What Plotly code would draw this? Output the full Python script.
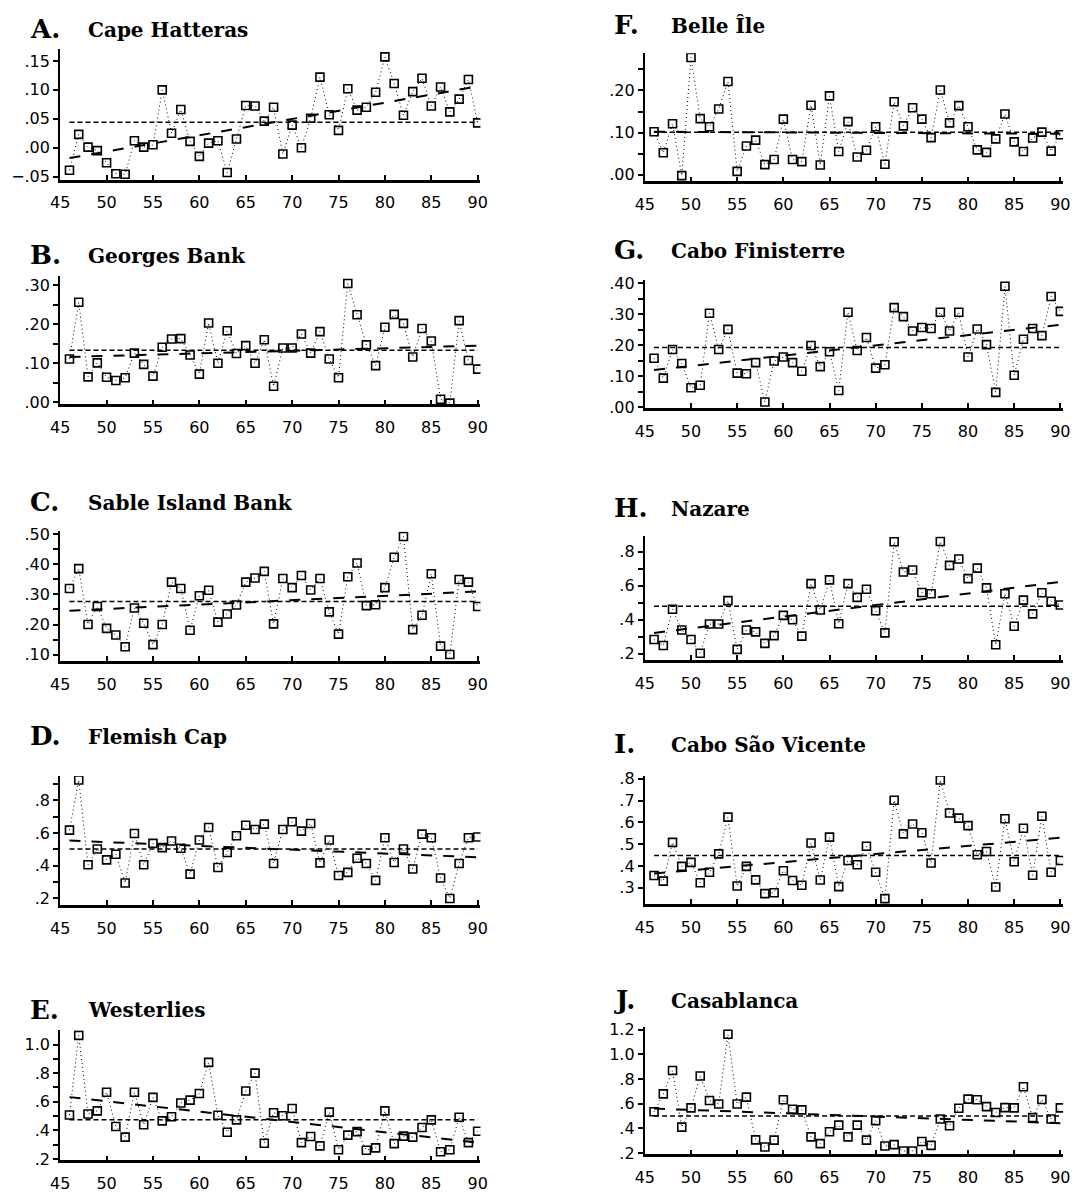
import plotly.graph_objects as go

W, H = 1078, 1193

years = list(range(46, 91))
x_tick_vals = [45, 50, 55, 60, 65, 70, 75, 80, 85, 90]
x_tick_text = ["45", "50", "55", "60", "65", "70", "75", "80", "85", "90"]

# ---------------- data ----------------
A_values = [-0.039, 0.023, 0.001, -0.005, -0.026, -0.045, -0.046, 0.012, 0.001, 0.005,
            0.100, 0.025, 0.066, 0.011, -0.015, 0.008, 0.012, -0.043, 0.015, 0.073,
            0.072, 0.046, 0.070, -0.011, 0.039, 0.000, 0.051, 0.122, 0.057, 0.030,
            0.102, 0.065, 0.070, 0.096, 0.157, 0.111, 0.056, 0.097, 0.120, 0.072,
            0.105, 0.062, 0.084, 0.118, 0.043]
A_mean = 0.044
A_trend = [-0.018, 0.106]
A_tickvals = [-0.05, 0.0, 0.05, 0.10, 0.15]
A_ticktext = ["\u2212.05", ".00", ".05", ".10", ".15"]
A_minor = []

B_values = [0.111, 0.256, 0.065, 0.101, 0.064, 0.056, 0.063, 0.126, 0.097, 0.067,
            0.141, 0.162, 0.163, 0.121, 0.072, 0.203, 0.100, 0.183, 0.125, 0.145,
            0.100, 0.160, 0.041, 0.139, 0.139, 0.175, 0.126, 0.181, 0.111, 0.063,
            0.304, 0.224, 0.147, 0.094, 0.192, 0.225, 0.202, 0.116, 0.189, 0.157,
            0.008, -0.002, 0.209, 0.107, 0.085]
B_mean = 0.133
B_trend = [0.116, 0.145]
B_tickvals = [0.0, 0.10, 0.20, 0.30]
B_ticktext = [".00", ".10", ".20", ".30"]
B_minor = [0.05, 0.15, 0.25]

C_values = [0.320, 0.386, 0.200, 0.260, 0.187, 0.165, 0.126, 0.255, 0.204, 0.133,
            0.200, 0.341, 0.320, 0.181, 0.296, 0.314, 0.208, 0.235, 0.265, 0.341,
            0.355, 0.377, 0.202, 0.353, 0.323, 0.363, 0.315, 0.353, 0.242, 0.168,
            0.359, 0.405, 0.263, 0.266, 0.323, 0.424, 0.493, 0.183, 0.231, 0.369,
            0.128, 0.100, 0.350, 0.341, 0.260]
C_mean = 0.277
C_trend = [0.246, 0.310]
C_tickvals = [0.10, 0.20, 0.30, 0.40, 0.50]
C_ticktext = [".10", ".20", ".30", ".40", ".50"]
C_minor = [0.15, 0.25, 0.35, 0.45]

D_values = [0.618, 0.925, 0.406, 0.503, 0.436, 0.471, 0.295, 0.598, 0.406, 0.537,
            0.511, 0.552, 0.507, 0.349, 0.558, 0.634, 0.390, 0.481, 0.584, 0.648,
            0.622, 0.655, 0.414, 0.622, 0.669, 0.612, 0.659, 0.418, 0.558, 0.341,
            0.360, 0.446, 0.414, 0.311, 0.572, 0.420, 0.503, 0.380, 0.594, 0.572,
            0.325, 0.200, 0.414, 0.572, 0.576]
D_mean = 0.503
D_trend = [0.554, 0.452]
D_tickvals = [0.2, 0.4, 0.6, 0.8]
D_ticktext = [".2", ".4", ".6", ".8"]
D_minor = [0.3, 0.5, 0.7, 0.9]

E_values = [0.507, 1.064, 0.514, 0.536, 0.666, 0.427, 0.352, 0.666, 0.439, 0.630,
            0.466, 0.495, 0.591, 0.611, 0.657, 0.875, 0.505, 0.386, 0.473, 0.675,
            0.800, 0.309, 0.523, 0.502, 0.552, 0.314, 0.357, 0.291, 0.527, 0.264,
            0.366, 0.391, 0.261, 0.277, 0.536, 0.307, 0.359, 0.352, 0.420, 0.473,
            0.250, 0.264, 0.491, 0.314, 0.393]
E_mean = 0.473
E_trend = [0.632, 0.314]
E_tickvals = [0.2, 0.4, 0.6, 0.8, 1.0]
E_ticktext = [".2", ".4", ".6", ".8", "1.0"]
E_minor = [0.3, 0.5, 0.7, 0.9]

F_values = [0.102, 0.052, 0.121, -0.002, 0.278, 0.133, 0.114, 0.156, 0.221, 0.008,
            0.068, 0.082, 0.024, 0.036, 0.132, 0.036, 0.031, 0.165, 0.023, 0.187,
            0.055, 0.126, 0.042, 0.058, 0.114, 0.025, 0.173, 0.116, 0.159, 0.132,
            0.088, 0.201, 0.123, 0.164, 0.114, 0.059, 0.053, 0.085, 0.144, 0.078,
            0.055, 0.087, 0.101, 0.056, 0.095]
F_mean = 0.101
F_trend = [0.102, 0.097]
F_tickvals = [0.0, 0.10, 0.20]
F_ticktext = [".00", ".10", ".20"]
F_minor = [0.05, 0.15, 0.25]

G_values = [0.158, 0.094, 0.186, 0.141, 0.063, 0.071, 0.303, 0.186, 0.251, 0.110,
            0.108, 0.144, 0.017, 0.149, 0.162, 0.144, 0.116, 0.199, 0.131, 0.179,
            0.054, 0.306, 0.183, 0.225, 0.126, 0.137, 0.321, 0.292, 0.246, 0.257,
            0.254, 0.306, 0.246, 0.306, 0.162, 0.252, 0.202, 0.048, 0.390, 0.103,
            0.219, 0.254, 0.231, 0.357, 0.309]
G_mean = 0.193
G_trend = [0.120, 0.266]
G_tickvals = [0.0, 0.10, 0.20, 0.30, 0.40]
G_ticktext = [".00", ".10", ".20", ".30", ".40"]
G_minor = [0.05, 0.15, 0.25, 0.35]

H_values = [0.283, 0.248, 0.461, 0.339, 0.283, 0.202, 0.374, 0.374, 0.512, 0.225,
            0.339, 0.328, 0.260, 0.306, 0.425, 0.399, 0.303, 0.612, 0.457, 0.634,
            0.376, 0.612, 0.531, 0.579, 0.452, 0.322, 0.858, 0.680, 0.692, 0.560,
            0.552, 0.860, 0.719, 0.757, 0.641, 0.703, 0.587, 0.252, 0.552, 0.361,
            0.515, 0.434, 0.558, 0.508, 0.486]
H_mean = 0.478
H_trend = [0.322, 0.622]
H_tickvals = [0.2, 0.4, 0.6, 0.8]
H_ticktext = [".2", ".4", ".6", ".8"]
H_minor = [0.3, 0.5, 0.7]

I_values = [0.356, 0.330, 0.508, 0.398, 0.416, 0.323, 0.371, 0.455, 0.624, 0.308,
            0.398, 0.336, 0.273, 0.277, 0.378, 0.333, 0.311, 0.505, 0.335, 0.532,
            0.305, 0.425, 0.405, 0.490, 0.371, 0.250, 0.701, 0.547, 0.592, 0.552,
            0.413, 0.794, 0.643, 0.619, 0.585, 0.451, 0.466, 0.303, 0.616, 0.419,
            0.573, 0.357, 0.628, 0.371, 0.425]
I_mean = 0.448
I_trend = [0.365, 0.529]
I_tickvals = [0.3, 0.4, 0.5, 0.6, 0.7, 0.8]
I_ticktext = [".3", ".4", ".5", ".6", ".7", ".8"]
I_minor = []

J_values = [0.535, 0.680, 0.870, 0.411, 0.567, 0.825, 0.627, 0.598, 1.163, 0.598,
            0.654, 0.308, 0.250, 0.306, 0.633, 0.556, 0.551, 0.332, 0.277, 0.374,
            0.427, 0.332, 0.427, 0.306, 0.464, 0.258, 0.269, 0.218, 0.218, 0.295,
            0.263, 0.477, 0.422, 0.564, 0.638, 0.633, 0.577, 0.530, 0.569, 0.567,
            0.738, 0.488, 0.635, 0.477, 0.567]
J_mean = 0.501
J_trend = [0.561, 0.443]
J_tickvals = [0.2, 0.4, 0.6, 0.8, 1.0, 1.2]
J_ticktext = [".2", ".4", ".6", ".8", "1.0", "1.2"]
J_minor = []

letters = ["A.", "B.", "C.", "D.", "E.", "F.", "G.", "H.", "I.", "J."]
names = ["Cape Hatteras", "Georges Bank", "Sable Island Bank", "Flemish Cap", "Westerlies",
         "Belle Île", "Cabo Finisterre", "Nazare", "Cabo São Vicente", "Casablanca"]

series = [A_values, B_values, C_values, D_values, E_values,
          F_values, G_values, H_values, I_values, J_values]
means = [A_mean, B_mean, C_mean, D_mean, E_mean, F_mean, G_mean, H_mean, I_mean, J_mean]
trends = [A_trend, B_trend, C_trend, D_trend, E_trend, F_trend, G_trend, H_trend, I_trend, J_trend]
tickvals = [A_tickvals, B_tickvals, C_tickvals, D_tickvals, E_tickvals,
            F_tickvals, G_tickvals, H_tickvals, I_tickvals, J_tickvals]
ticktexts = [A_ticktext, B_ticktext, C_ticktext, D_ticktext, E_ticktext,
             F_ticktext, G_ticktext, H_ticktext, I_ticktext, J_ticktext]
minors = [A_minor, B_minor, C_minor, D_minor, E_minor, F_minor, G_minor, H_minor, I_minor, J_minor]

# ---------------- layout (pixel geometry) ----------------
col_x = {0: (51, 478), 1: (645, 1070)}
letter_x = {0: 18, 1: 612}
name_x = {0: 77, 1: 670}
# (column, plot top px, plot bottom px, y range, title centre px)
geom = [
    (0, 43, 175, [-0.055, 0.17], 22),
    (0, 273, 403, [-0.005, 0.323], 252),
    (0, 532, 663, [0.08, 0.51], 502),
    (0, 780, 911, [0.16, 0.95], 740),
    (0, 1038, 1170, [0.19, 1.10], 1017),
    (1, 47, 177, [-0.016, 0.288], 18),
    (1, 277, 407, [-0.003, 0.41], 247),
    (1, 537, 662, [0.165, 0.89], 508),
    (1, 780, 910, [0.225, 0.813], 748),
    (1, 1035, 1164, [0.19, 1.22], 1007),
]

def px_x(p):
    return p / W

def px_y(p):
    return 1 - p / H

fig = go.Figure()
layout = dict(
    width=W, height=H,
    margin=dict(l=0, r=0, t=0, b=0),
    paper_bgcolor="white", plot_bgcolor="white",
    showlegend=False,
    annotations=[],
)

tick_font = dict(family="DejaVu Sans", size=16, color="black")

for i in range(10):
    col, top, bot, yr, ty = geom[i]
    k = "" if i == 0 else str(i + 1)
    xa, ya = "x" + k, "y" + k
    vals = series[i]

    fig.add_trace(go.Scatter(
        x=years, y=vals, xaxis=xa, yaxis=ya, mode="lines",
        line=dict(color="black", width=1, dash="1px,3px"), hoverinfo="skip"))
    fig.add_trace(go.Scatter(
        x=[years[0], years[-1]], y=[means[i], means[i]], xaxis=xa, yaxis=ya, mode="lines",
        line=dict(color="black", width=1.5, dash="5px,3px"), hoverinfo="skip"))
    fig.add_trace(go.Scatter(
        x=[years[0], years[-1]], y=trends[i], xaxis=xa, yaxis=ya, mode="lines",
        line=dict(color="black", width=2, dash="11px,11px"), hoverinfo="skip"))
    fig.add_trace(go.Scatter(
        x=years, y=vals, xaxis=xa, yaxis=ya, mode="markers",
        marker=dict(symbol="square-open", size=8, color="black", line=dict(width=1.6, color="black"))))

    tv = list(tickvals[i]) + list(minors[i])
    tt = list(ticktexts[i]) + [""] * len(minors[i])

    x0, x1 = col_x[col]
    layout["xaxis" + k] = dict(
        domain=[px_x(x0), px_x(x1)], anchor=ya, range=[45, 90.3],
        tickvals=x_tick_vals, ticktext=x_tick_text,
        ticks="inside", ticklen=5, tickwidth=1.5, tickcolor="black", ticklabelstandoff=7,
        showline=True, linecolor="black", linewidth=2.5, showgrid=False, zeroline=False,
        tickfont=tick_font, fixedrange=True)
    layout["yaxis" + k] = dict(
        domain=[px_y(bot), px_y(top)], anchor=xa, range=yr,
        tickvals=tv, ticktext=tt, ticks="outside", ticklen=5, tickwidth=1.5, tickcolor="black",
        showline=True, linecolor="black", linewidth=2, showgrid=False, zeroline=False,
        tickfont=tick_font, fixedrange=True)

    layout["annotations"].append(dict(
        x=px_x(letter_x[col]), y=px_y(ty), xref="paper", yref="paper",
        xanchor="left", yanchor="middle", showarrow=False,
        text="<b>" + letters[i] + "</b>",
        font=dict(family="DejaVu Serif", size=26, color="black")))
    layout["annotations"].append(dict(
        x=px_x(name_x[col]), y=px_y(ty + 1), xref="paper", yref="paper",
        xanchor="left", yanchor="middle", showarrow=False,
        text="<b>" + names[i] + "</b>",
        font=dict(family="DejaVu Serif", size=20, color="black")))

fig.update_layout(**layout)
fig.write_html(
    "out.html",
    config={"displayModeBar": False},
    post_script="document.body.style.margin='0';document.body.style.padding='0';"
                "document.documentElement.style.overflow='hidden';",
)
